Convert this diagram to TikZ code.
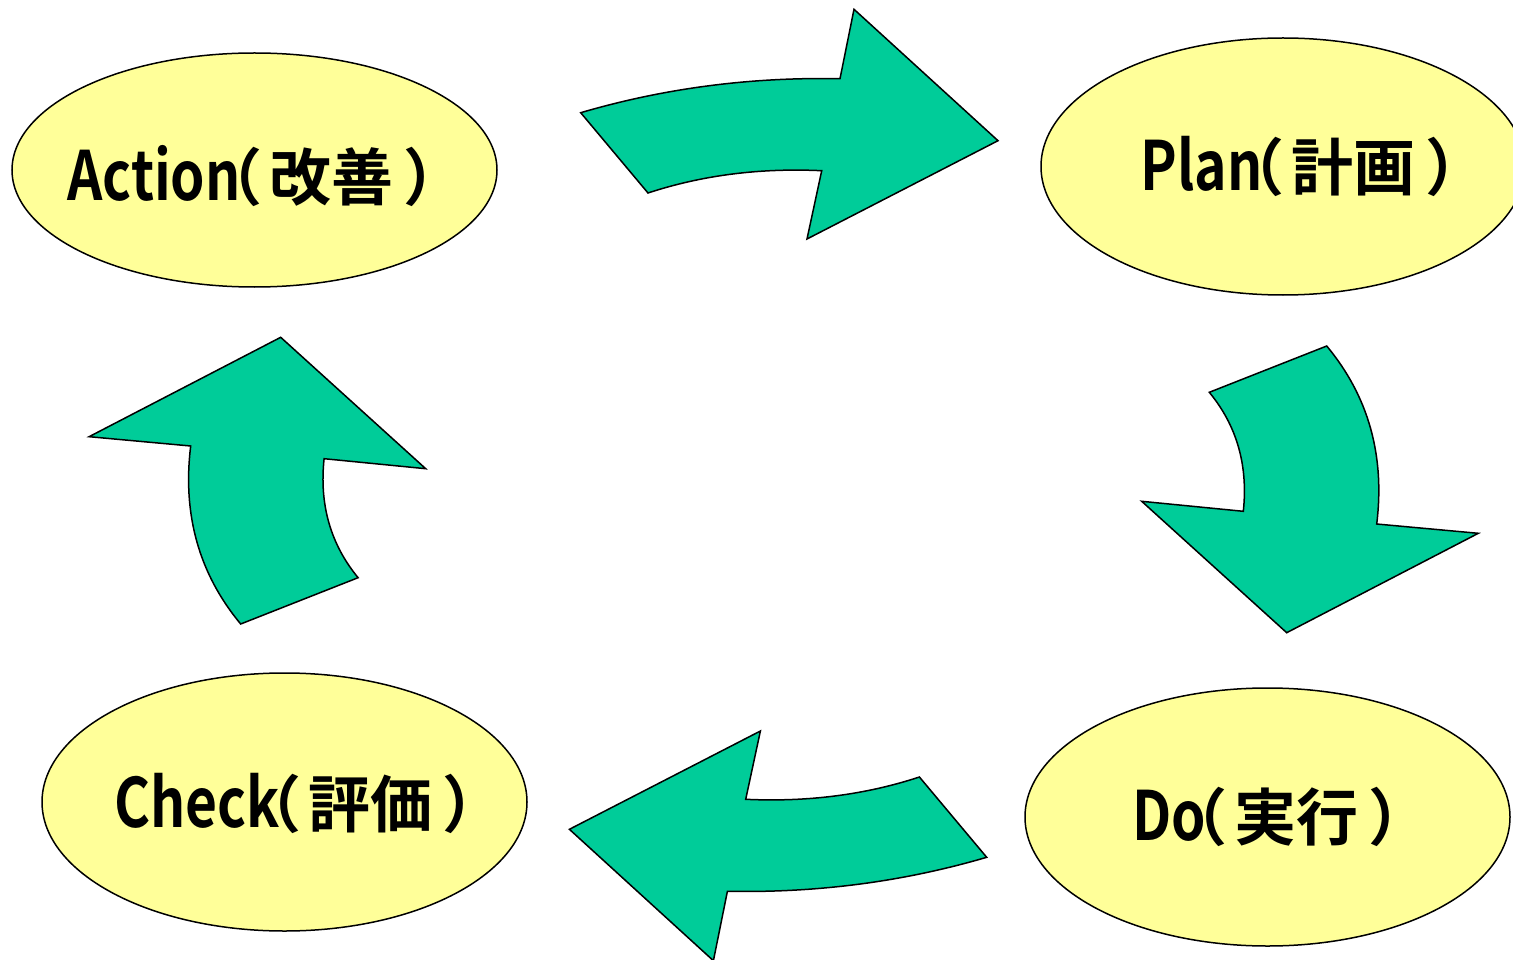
\documentclass[tikz,border=0pt]{standalone}
\usepackage{fontspec}
\usetikzlibrary{shapes.geometric}
\newfontfamily\jpf{Noto Sans CJK JP}[BoldFont={* Bold}]
\newfontfamily\latf{Noto Sans CJK JP}[BoldFont={* Bold},FakeStretch=0.81]
\definecolor{arrowc}{RGB}{0,204,153}
\definecolor{ellc}{RGB}{255,255,153}
\newcommand{\jplabel}[2]{{\bfseries\fontsize{68}{68}\latf #1\hspace{-40pt}\fontsize{62}{62}\jpf （\hspace{7pt}#2\hspace{10pt}）\hspace{-40pt}}}
\begin{document}
\begin{tikzpicture}[x=1pt,y=-1pt,
  ell/.style={ellipse, draw=black, line width=1.5pt, fill=ellc, inner sep=0pt},
  blockarrow/.style={draw=black, line width=1.5pt, fill=arrowc, line join=miter},
  lbl/.style={inner sep=0pt, anchor=center}]
\useasboundingbox (0,0) rectangle (1513,960);
\fill[white] (0,0) rectangle (1513,960);

% ellipses
\node[ell, minimum width=485pt, minimum height=234pt] (action) at (254.5,170) {};
\node[ell, minimum width=484pt, minimum height=257pt] (plan) at (1283,166.5) {};
\node[ell, minimum width=485pt, minimum height=258pt] (check) at (284.5,802) {};
\node[ell, minimum width=485pt, minimum height=258pt] (do) at (1267.5,817) {};

% labels
\node[lbl] (actionT) at (266.5,176) {\jplabel{Action}{改善}};
\node[lbl] (planT) at (1314,166.5) {\jplabel{Plan}{計画}};
\node[lbl] (checkT) at (309.5,803.5) {\jplabel{Check}{評価}};
\node[lbl] (doT) at (1281.5,816.5) {\jplabel{Do}{実行}};

% top arrow (Action -> Plan)
\draw[blockarrow] (580.7,112.7) .. controls (665,88) and (751,77) .. (840,78.7)
  -- (854,9.3) -- (998,140.7) -- (807,239) -- (821.7,170.7)
  .. controls (759.6,167.8) and (701.7,175.3) .. (648,193) -- cycle;

% right arrow (Plan -> Do)
\draw[blockarrow] (1326.7,346) .. controls (1368.4,396.1) and (1385.1,455.5) .. (1376.7,524)
  -- (1478.3,533.3) -- (1286.7,632.7) -- (1141.7,501.3) -- (1243.3,511.3)
  .. controls (1248.2,465.4) and (1236.9,425.8) .. (1209.3,392.3) -- cycle;

% bottom arrow (Do -> Check)
\draw[blockarrow] (986.7,857.3) .. controls (902.4,882) and (816.4,893) .. (727.4,891.3)
  -- (713.4,960.7) -- (569.4,829.3) -- (760.4,731) -- (745.7,799.3)
  .. controls (807.8,802.2) and (865.7,794.7) .. (919.4,777) -- cycle;

% left arrow (Check -> Action)
\draw[blockarrow] (240.7,624) .. controls (199,573.9) and (182.3,514.5) .. (190.7,446)
  -- (89.1,436.7) -- (280.7,337.3) -- (425.7,468.7) -- (324.1,458.7)
  .. controls (319.2,504.6) and (330.5,544.2) .. (358.1,577.7) -- cycle;
\end{tikzpicture}
\end{document}
